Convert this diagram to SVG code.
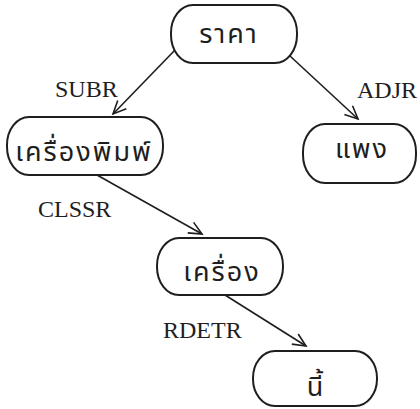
<svg xmlns="http://www.w3.org/2000/svg" width="420" height="409" viewBox="0 0 420 409">
  <style>
    .node rect { fill: #ffffff; stroke: #1e1e1e; stroke-width: 2; }
    .th { font-family: "Noto Sans Thai", "Noto Serif Thai", "Noto Sans", sans-serif; font-size: 27px; fill: #1e1e1e; text-anchor: middle; letter-spacing: 2px; }
    .lbl { font-family: "Liberation Serif", "Times New Roman", serif; font-size: 24px; fill: #1e1e1e; }
    .edge { fill: none; stroke: #1e1e1e; stroke-width: 1.6; marker-end: url(#arrow); }
  </style>
  <defs>
    <marker id="arrow" viewBox="-15 -8 17 16" markerWidth="17" markerHeight="16" refX="0" refY="0" orient="auto" markerUnits="userSpaceOnUse">
      <path d="M -13 -6 L 0 0 L -13 6" fill="none" stroke="#1e1e1e" stroke-width="1.6"/>
    </marker>
  </defs>
  <rect width="420" height="409" fill="#ffffff"/>

  <g id="connectors">
    <line class="edge" x1="176" y1="49" x2="113" y2="114"/>
    <line class="edge" x1="290" y1="56" x2="358" y2="119"/>
    <line class="edge" x1="97" y1="175" x2="202" y2="234"/>
    <line class="edge" x1="225" y1="295" x2="306" y2="346"/>
    <text class="lbl" x="55" y="97">SUBR</text>
    <text class="lbl" x="357" y="98">ADJR</text>
    <text class="lbl" x="38" y="217">CLSSR</text>
    <text class="lbl" x="163" y="338">RDETR</text>
  </g>

  <g id="node-price" class="node">
    <rect x="171" y="5" width="126" height="58" rx="22" ry="28"/>
    <text class="th" x="229" y="43">ราคา</text>
  </g>
  <g id="node-printer" class="node">
    <rect x="7" y="117" width="156" height="58" rx="22" ry="28"/>
    <text class="th" x="84" y="161">เครื่องพิมพ์</text>
  </g>
  <g id="node-expensive" class="node">
    <rect x="303" y="124" width="113" height="59" rx="22" ry="28"/>
    <text class="th" x="362" y="158">แพง</text>
  </g>
  <g id="node-machine" class="node">
    <rect x="157" y="238" width="126" height="57" rx="22" ry="28"/>
    <text class="th" x="222" y="281">เครื่อง</text>
  </g>
  <g id="node-this" class="node">
    <rect x="253" y="351" width="124" height="55" rx="22" ry="27"/>
    <text class="th" x="316" y="396">นี้</text>
  </g>
</svg>
